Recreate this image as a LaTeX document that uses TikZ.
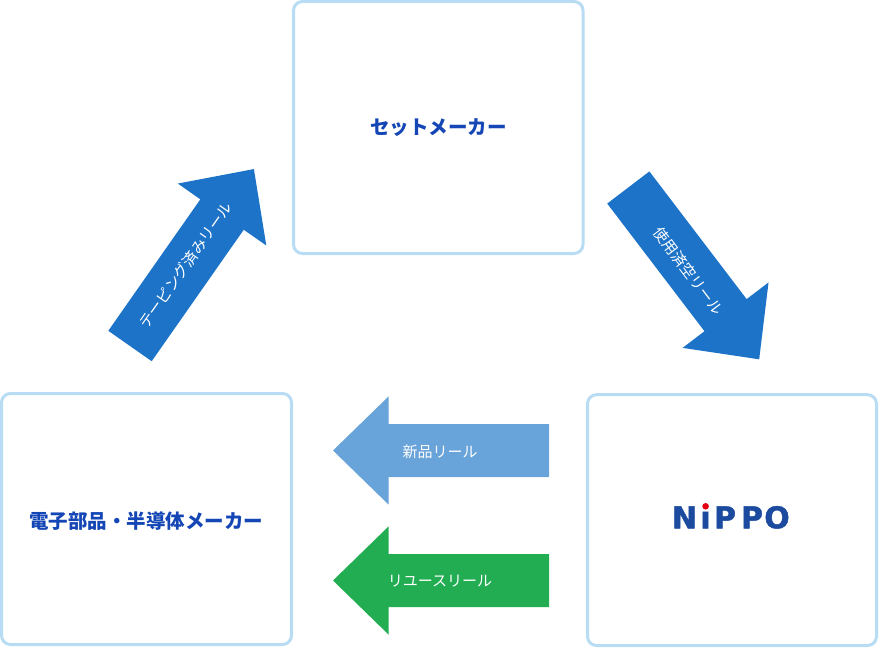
\documentclass[tikz,border=0pt]{standalone}
\usepackage{fontspec}
\newfontfamily\jp{Noto Sans CJK JP}
\newfontfamily\logofont{DejaVu Sans Bold}[FakeBold=1.5]
\definecolor{boxline}{HTML}{B8DCF3}
\definecolor{txtblue}{HTML}{1446B5}
\definecolor{arrblue}{HTML}{1D73C8}
\definecolor{arrlight}{HTML}{68A3DA}
\definecolor{arrgreen}{HTML}{23AD53}
\definecolor{logoblue}{HTML}{1B4A9E}
\definecolor{logored}{HTML}{E60012}
\tikzset{
  x=1pt, y=-1pt,
  panel/.style={draw=boxline, line width=3pt, rounded corners=9pt, fill=white},
  boxtext/.style={text=txtblue, font=\jp\bfseries\fontsize{19.5}{22}\selectfont},
  arrtext/.style={text=white, font=\jp\fontsize{15}{18}\selectfont, inner sep=0pt},
  logoletter/.style={text=logoblue, font=\logofont\fontsize{30}{32}\selectfont, anchor=base, inner sep=0pt},
}
\newcommand{\blockarrow}[1]{\fill[#1] (0,-26.5) -- (160.5,-26.5) -- (160.5,-54) -- (216,0) -- (160.5,54) -- (160.5,26.5) -- (0,26.5) -- cycle;}
\begin{document}
\begin{tikzpicture}
\useasboundingbox (0,0) rectangle (879,650);
% boxes
\draw[panel] (293.5,1.5) rectangle (583,253.5);
\draw[panel] (1.5,393.5) rectangle (291.5,644.5);
\draw[panel] (587.5,394.7) rectangle (876.5,645.5);
\node[boxtext] (setmaker) at (438.25,128) {セットメーカー};
\node[boxtext] (denshi) at (146.5,521) {電子部品・半導体メーカー};
% NiPPO logo
\node[logoletter] (lN) at (684.5,528.3) {N};
\node[logoletter] (li) at (705.5,528.3) {ı};
\node[logoletter] (lP1) at (725,528.3) {P};
\node[logoletter] (lP2) at (752,528.3) {P};
\node[logoletter] (lO) at (777,528.3) {O};
\fill[logored] (705.6,506.3) circle (3.3pt);
% arrows
\begin{scope}[shift={(130,346)}, rotate=55]
  \blockarrow{arrblue}
\end{scope}
\node[arrtext, rotate=55] (taping) at (185.8,265) {テーピング済みリール};
\begin{scope}[shift={(628.3,187.5)}, rotate=-52.7]
  \blockarrow{arrblue}
\end{scope}
\node[arrtext, rotate=-53] (used) at (688.3,270.8) {使用済空リール};
\begin{scope}[shift={(549,450.5)}, rotate=180]
  \blockarrow{arrlight}
\end{scope}
\node[arrtext] (newreel) at (440,451.5) {新品リール};
\begin{scope}[shift={(549,580.5)}, rotate=180]
  \blockarrow{arrgreen}
\end{scope}
\node[arrtext] (reuse) at (440,581.5) {リユースリール};
\end{tikzpicture}
\end{document}
